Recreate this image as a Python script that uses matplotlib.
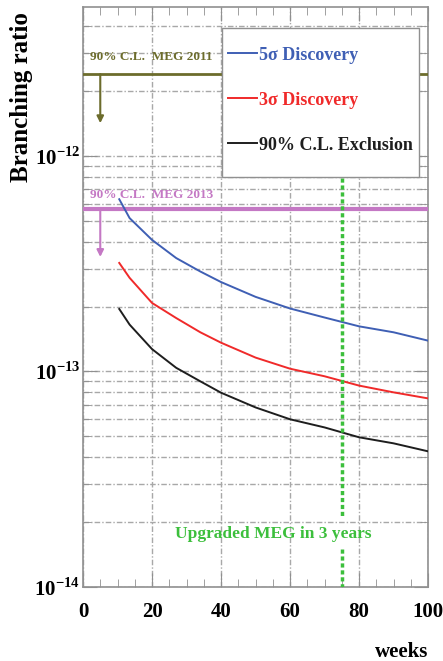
import numpy as np
import matplotlib
matplotlib.use("Agg")
import matplotlib.pyplot as plt
from matplotlib.patches import Rectangle
from matplotlib.ticker import MultipleLocator, LogLocator, NullFormatter

plt.rcParams['font.family'] = ['Liberation Serif', 'DejaVu Serif']
plt.rcParams['font.weight'] = 'bold'
plt.rcParams['mathtext.fontset'] = 'custom'
plt.rcParams['mathtext.rm'] = 'Liberation Serif:bold'
plt.rcParams['mathtext.bf'] = 'Liberation Serif:bold'

# data
weeks = [10.5, 13.5, 20, 27, 34, 40, 50, 60, 70, 80, 90, 100]
disc_5sigma = [6.30e-13, 5.15e-13, 4.08e-13, 3.36e-13, 2.91e-13, 2.60e-13,
               2.22e-13, 1.96e-13, 1.78e-13, 1.62e-13, 1.52e-13, 1.39e-13]
disc_3sigma = [3.19e-13, 2.72e-13, 2.08e-13, 1.77e-13, 1.52e-13, 1.36e-13,
               1.16e-13, 1.03e-13, 9.5e-14, 8.6e-14, 8.0e-14, 7.5e-14]
excl_90 = [1.95e-13, 1.65e-13, 1.27e-13, 1.04e-13, 9.0e-14, 7.97e-14,
           6.81e-14, 6.0e-14, 5.5e-14, 4.95e-14, 4.64e-14, 4.26e-14]

meg2011 = 2.4e-12
meg2013 = 5.7e-13
upgrade_week = 75
ytick_vals = [1e-14, 1e-13, 1e-12]
ytick_labels = [r'$10^{-14}$', r'$10^{-13}$', r'$10^{-12}$']
xtick_vals = [0, 20, 40, 60, 80, 100]

c_blue = "#3f5fb4"
c_red = "#f02a2a"
c_black = "#1e1e1e"
c_olive = "#6c6c2c"
c_mag = "#c478c4"
c_green = "#3cbf3c"
c_grid = "#a8a8a8"
c_frame = "#909090"

fig = plt.figure(figsize=(4.43, 6.61), dpi=100)
ax = fig.add_axes([0.1874, 0.112, 0.779, 0.877])
ax.set_yscale("log")
ax.set_xlim(0, 100)
ax.set_ylim(1e-14, 4.9e-12)

# grid
gls = (0, (4, 1.5, 1, 1.5))
ax.grid(which="major", axis="both", color=c_grid, linestyle=gls, linewidth=1.0)
ax.grid(which="minor", axis="y", color=c_grid, linestyle=gls, linewidth=1.0)

# limits from previous runs
ax.axhline(meg2011, color=c_olive, linewidth=2, zorder=3)
ax.annotate("", xy=(5, 1.42e-12), xytext=(5, meg2011),
            arrowprops=dict(arrowstyle="-|>", color=c_olive, lw=1.5, mutation_scale=10,
                            shrinkA=0, shrinkB=0), zorder=3)
ax.text(2, meg2011 * 1.12, "90% C.L.  MEG 2011", color=c_olive, fontsize=9.5,
        ha="left", va="bottom")

ax.axhline(meg2013, color=c_mag, linewidth=3, zorder=3)
ax.annotate("", xy=(5, 3.4e-13), xytext=(5, meg2013),
            arrowprops=dict(arrowstyle="-|>", color=c_mag, lw=1.5, mutation_scale=10,
                            shrinkA=0, shrinkB=0), zorder=3)
ax.text(2, meg2013 * 1.08, "90% C.L.  MEG 2013", color=c_mag, fontsize=9.5,
        ha="left", va="bottom")

# sensitivity curves
ax.plot(weeks, disc_5sigma, color=c_blue, lw=1.4, label="5σ Discovery", zorder=4)
ax.plot(weeks, disc_3sigma, color=c_red, lw=1.4, label="3σ Discovery", zorder=4)
ax.plot(weeks, excl_90, color=c_black, lw=1.4, label="90% C.L. Exclusion", zorder=4)

# upgraded MEG marker
ax.plot([upgrade_week, upgrade_week], [7.9e-13, 2.1e-14], color=c_green, lw=2.5,
        linestyle=(0, (1.2, 0.8)), zorder=4)
ax.plot([upgrade_week, upgrade_week], [1.5e-14, 1e-14], color=c_green, lw=2.5,
        linestyle=(0, (1.2, 0.8)), zorder=4)
ax.text(55, 1.76e-14, "Upgraded MEG in 3 years", color=c_green, fontsize=12.5,
        ha="center", va="center")

# ticks
ax.set_xticks(xtick_vals)
ax.set_xticklabels([str(v) for v in xtick_vals], fontsize=15)
ax.xaxis.set_minor_locator(MultipleLocator(5))
ax.set_yticks(ytick_vals)
ax.set_yticklabels(ytick_labels, fontsize=15)
ax.yaxis.set_minor_locator(LogLocator(base=10, subs=np.arange(2, 10)))
ax.yaxis.set_minor_formatter(NullFormatter())
ax.tick_params(which="both", direction="in", top=True, right=True, colors=c_frame,
               labelcolor="black")
ax.tick_params(which="major", length=10)
ax.tick_params(which="minor", length=6)
ax.tick_params(axis="y", which="major", pad=2)
ax.tick_params(axis="x", which="major", pad=11)
for s in ax.spines.values():
    s.set_color(c_frame)
    s.set_linewidth(1.2)

ax.set_ylabel("Branching ratio", fontsize=18, fontweight="bold")
ax.yaxis.set_label_coords(-0.145, 0.845)
ax.set_xlabel("weeks", fontsize=15, fontweight="bold", ha="right")
ax.xaxis.set_label_coords(1.0, -0.095)

# legend box
ax.add_patch(Rectangle((0.403, 0.707), 0.571, 0.257, transform=ax.transAxes,
                       facecolor="white", edgecolor=c_frame, linewidth=1.0, zorder=5))
leg = ax.legend(loc="upper left", bbox_to_anchor=(0.42, 0.932), fontsize=13,
                frameon=False, handlelength=1.6, handletextpad=0.1, labelspacing=1.55,
                borderpad=0, borderaxespad=0, labelcolor="linecolor")
leg.set_zorder(6)

fig.savefig("out.png", dpi=100)
